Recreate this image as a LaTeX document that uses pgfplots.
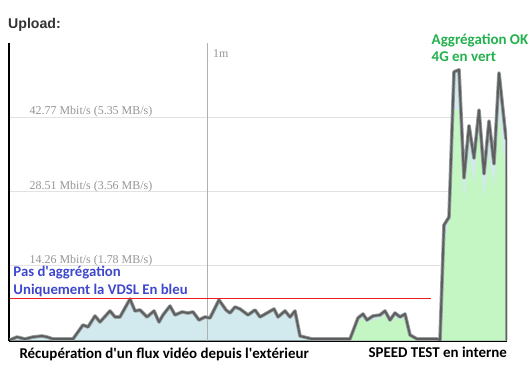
\documentclass[border=0pt]{standalone}
\usepackage{fontspec}
\usepackage{pgfplots}
\usepackage{pgfplotstable}
\pgfplotsset{compat=1.18}
\setmainfont{Liberation Serif}
\newfontfamily\carlito{Carlito}
\newfontfamily\arialf{Liberation Sans}
\definecolor{vdslfill}{HTML}{D2E9EE}
\definecolor{lteFill}{HTML}{C4F6C4}
\definecolor{linedark}{HTML}{5E5E5E}
\definecolor{linehalo}{HTML}{979FA1}
\definecolor{gridgray}{HTML}{E2E2E2}
\definecolor{labelgray}{HTML}{959595}
\definecolor{vgray}{HTML}{B0B0B0}
\definecolor{annblue}{HTML}{3F48CC}
\definecolor{anngreen}{HTML}{22B14C}
\definecolor{annred}{HTML}{ED1C24}

\pgfplotstableread{
x y
10 0.1
17 0.67
25 0.29
33 0.67
42 0.86
47 0.67
53 0.29
60 0.29
73 0.29
83 2.97
88 2.58
95 4.69
100 3.54
110 5.65
115 4.50
120 4.50
130 7.94
135 5.65
140 5.84
147 4.50
154 5.65
159 3.54
163 4.88
170 6.60
175 4.88
182 5.46
188 5.26
193 5.46
199 3.92
205 4.50
210 4.31
219 7.75
226 5.84
230 5.26
235 6.41
240 6.03
248 4.88
255 5.84
260 4.50
267 5.26
274 6.03
278 4.50
285 5.65
290 4.50
295 5.65
300 0.86
312 0.29
350 0.29
358 4.31
363 5.07
367 3.92
373 4.69
380 4.88
385 5.65
390 3.92
395 5.26
400 4.50
405 5.07
410 1.05
417 0.29
437 0.29
440 0.1
444 22.1
449 23.6
454 51.4
459 51.8
464 31.1
469 41.1
474 34.9
479 44.1
484 31.9
489 42.0
494 33.8
499 51.2
506 38.6
507 38.6
507 0
}\totaltab

\pgfplotstableread{
x y
350 0
358 3.6
363 4.4
367 3.3
373 4.0
380 4.2
385 5.0
390 3.3
395 4.6
400 3.9
405 4.4
410 0.6
417 0
437 0
440 0
444 17.9
449 23.1
454 44.1
459 44.1
464 26.5
469 35.9
474 29.8
479 42.2
484 26.9
489 35.9
494 29.4
499 42.8
506 32.3
507 32.3
}\ltetab

\begin{document}
\begin{tikzpicture}
\path[use as bounding box] (0bp,0bp) rectangle (530bp,367bp);
\begin{axis}[
  at={(9bp,26.5bp)}, anchor=south west,
  scale only axis, width=498bp, height=297.5bp,
  xmin=9, xmax=507, ymin=0, ymax=56.94,
  axis x line*=bottom, axis y line*=left,
  x axis line style={black, line width=3bp, -},
  y axis line style={black, line width=2bp, -},
  xtick=\empty,
  ytick={14.26,28.51,42.77}, yticklabels={},
  ymajorgrids, major grid style={color=gridgray, line width=1bp},
  major tick length=0pt,
]
\addplot[fill=vdslfill, draw=none] table[x=x,y=y] {\totaltab} \closedcycle;
\addplot[fill=lteFill, draw=none] table[x=x,y=y] {\ltetab} \closedcycle;
\draw[color=vgray, line width=1bp] (axis cs:207,0) -- (axis cs:207,56.94);
\addplot[color=linehalo, line width=3.6bp, line join=round] table[x=x,y=y] {\totaltab};
\addplot[color=linedark, line width=1.9bp, line join=round] table[x=x,y=y] {\totaltab};
\draw[color=annred, line width=1bp] (axis cs:10,8.13) -- (axis cs:431,8.13);
\node[anchor=base west, inner sep=0pt, text=labelgray, font=\fontsize{12}{14}\selectfont] at (axis cs:29.5,43.25) {42.77 Mbit/s (5.35 MB/s)};
\node[anchor=base west, inner sep=0pt, text=labelgray, font=\fontsize{12}{14}\selectfont] at (axis cs:29.5,28.99) {28.51 Mbit/s (3.56 MB/s)};
\node[anchor=base west, inner sep=0pt, text=labelgray, font=\fontsize{12}{14}\selectfont] at (axis cs:29.5,14.76) {14.26 Mbit/s (1.78 MB/s)};
\node[anchor=base west, inner sep=0pt, text=labelgray, font=\fontsize{12}{14}\selectfont] at (axis cs:213,54.07) {1m};
\end{axis}
\node[anchor=base west, inner sep=0pt, text=black!80, font=\arialf\bfseries\fontsize{14.2}{16}\selectfont] at (8bp,338.5bp) {Upload:};
\node[anchor=base west, inner sep=0pt, text=anngreen, font=\carlito\bfseries\fontsize{15}{17}\selectfont] at (431.5bp,322bp) {Aggrégation OK};
\node[anchor=base west, inner sep=0pt, text=anngreen, font=\carlito\bfseries\fontsize{15}{17}\selectfont] at (431.5bp,305.5bp) {4G en vert};
\node[anchor=base west, inner sep=0pt, text=annblue, font=\carlito\bfseries\fontsize{14.8}{17}\selectfont] at (13.3bp,90.4bp) {Pas d'aggrégation};
\node[anchor=base west, inner sep=0pt, text=annblue, font=\carlito\bfseries\fontsize{14.8}{17}\selectfont] at (13.3bp,72.6bp) {Uniquement la VDSL En bleu};
\node[anchor=base west, inner sep=0pt, text=black, font=\carlito\bfseries\fontsize{15}{17}\selectfont] at (19.3bp,9bp) {Récupération d'un flux vidéo depuis l'extérieur};
\node[anchor=base west, inner sep=0pt, text=black, font=\carlito\bfseries\fontsize{15}{17}\selectfont] at (368.3bp,9.5bp) {SPEED TEST en interne};
\end{tikzpicture}
\end{document}
